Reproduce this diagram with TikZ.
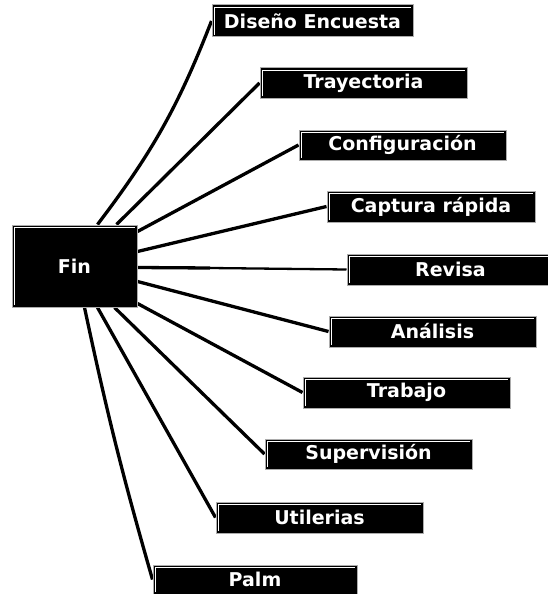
\documentclass[tikz,border=0pt]{standalone}
\usepackage{fontspec}
\setmainfont{DejaVu Sans}
\usetikzlibrary{backgrounds}
\begin{document}
\begin{tikzpicture}[x=1pt,y=-1pt,
  box/.style={fill=black, draw=gray!65, line width=1pt, text=white,
    font=\bfseries\fontsize{19}{21}\selectfont,
    minimum width=207pt, minimum height=30pt, inner sep=0pt,
    path picture={\draw[white, line width=0.9pt]
      ([xshift=2pt,yshift=2pt]path picture bounding box.south west)
      |- ([xshift=-2pt,yshift=-2pt]path picture bounding box.north east);}},
  link/.style={line width=3.3pt},
  thinlink/.style={line width=2.3pt}]
\useasboundingbox (0,0) rectangle (548,594);

\node[box, minimum width=125pt, minimum height=82pt] (fin) at (74.5,266) {Fin};
\node[box, minimum width=201pt, minimum height=32pt] (dis) at (312.5,21) {Diseño Encuesta};
\node[box] (tra) at (363.5,83) {Trayectoria};
\node[box] (con) at (402.5,145) {Configuración};
\node[box, minimum width=208pt, minimum height=31pt] (cap) at (431,206.5) {Captura rápida};
\node[box, minimum height=31pt] (rev) at (450.5,269.5) {Revisa};
\node[box, minimum height=31pt] (ana) at (432.5,331.5) {Análisis};
\node[box, minimum height=31pt] (trb) at (406.5,392.5) {Trabajo};
\node[box] (sup) at (368.5,454) {Supervisión};
\node[box, minimum height=31pt] (uti) at (319.5,517.5) {Utilerias};
\node[box, minimum width=204pt, minimum height=29pt] (pal) at (255,579.5) {Palm};

\coordinate (revmid) at (210,268);

\begin{scope}[on background layer]
\fill[white] (0,0) rectangle (548,594);
\draw[link] ([xshift=86pt]fin.north west) to[bend right=8] (dis.west);
\draw[link] ([xshift=105pt]fin.north west) -- (tra.west);
\draw[link] ([yshift=-7pt]fin.north east) -- (con.west);
\draw[link] ([yshift=-27pt]fin.north east) -- (cap.west);
\draw[link] ([yshift=-43pt]fin.north east) -- (revmid);
\draw[thinlink] (revmid) -- (rev.west);
\draw[link] ([yshift=-57pt]fin.north east) -- (ana.west);
\draw[link] ([yshift=4pt]fin.south east) -- (trb.west);
\draw[link] ([xshift=103pt]fin.south west) -- (sup.west);
\draw[link] ([xshift=86pt]fin.south west) -- (uti.west);
\draw[link] ([xshift=73pt]fin.south west) to[bend right=2] (pal.west);
\end{scope}
\end{tikzpicture}
\end{document}
